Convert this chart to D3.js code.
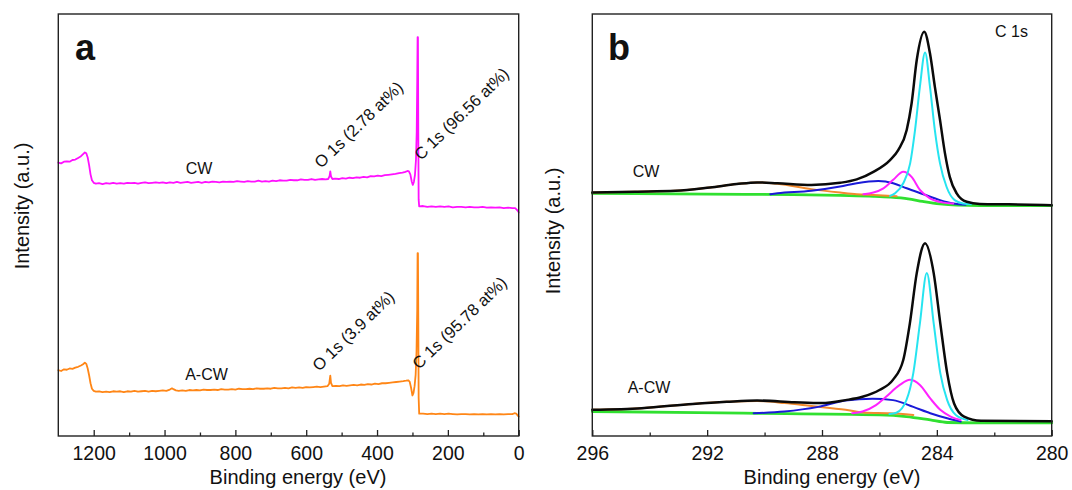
<!DOCTYPE html>
<html>
<head>
<meta charset="utf-8">
<script src="https://cdn.jsdelivr.net/npm/d3@7"></script>
<style>
  html, body { margin: 0; padding: 0; background: #fff; }
  svg { display: block; font-family: "Liberation Sans", Arial, Helvetica, sans-serif; }
</style>
</head>
<body>
<svg id="chart" width="1072" height="490"></svg>
<script>
// ---------- Panel a: XPS survey spectra, [binding energy (eV), intensity (a.u.)] ----------
const surveyCW = [
  [1300, 64.8], [1292, 64.6], [1284, 65.0], [1276, 65.1], [1268, 65.0], [1260, 65.4], [1252, 65.5],
  [1244, 65.9], [1236, 66.3], [1230, 66.8], [1225, 67.2], [1221, 67.0], [1217, 66.0], [1213, 64.2],
  [1209, 62.0], [1205, 60.6], [1200, 60.0], [1194, 59.8], [1185, 59.9], [1175, 59.7], [1165, 59.9],
  [1155, 59.8], [1145, 60.0], [1135, 59.8], [1125, 59.9], [1115, 59.8], [1105, 60.0], [1095, 59.9],
  [1085, 60.0], [1075, 59.8], [1065, 60.0], [1055, 60.1], [1045, 59.9], [1035, 60.0], [1025, 60.1],
  [1015, 60.0], [1005, 60.1], [995, 59.9], [985, 60.1], [975, 60.0], [965, 60.2], [955, 60.0],
  [945, 60.1], [935, 60.2], [925, 60.0], [915, 60.1], [905, 60.2], [895, 60.0], [885, 60.2],
  [875, 60.1], [865, 60.3], [855, 60.2], [845, 60.1], [835, 60.3], [825, 60.2], [815, 60.3],
  [805, 60.2], [795, 60.4], [785, 60.3], [775, 60.2], [765, 60.4], [755, 60.3], [745, 60.3],
  [735, 60.5], [725, 60.3], [715, 60.4], [705, 60.3], [695, 60.5], [685, 60.4], [675, 60.6],
  [665, 60.5], [655, 60.5], [645, 60.7], [635, 60.6], [625, 60.6], [615, 60.8], [605, 60.7],
  [595, 60.7], [585, 60.9], [575, 60.7], [565, 60.8], [555, 60.9], [545, 60.8], [538, 60.9],
  [534, 61.6], [532, 62.7], [530, 61.5], [526, 60.9], [518, 61.0], [508, 60.9], [498, 61.1],
  [488, 61.0], [478, 61.2], [468, 61.1], [458, 61.3], [448, 61.2], [438, 61.4], [428, 61.3],
  [418, 61.6], [408, 61.5], [398, 61.7], [388, 61.6], [378, 61.8], [368, 61.9], [358, 62.0],
  [348, 62.1], [338, 62.3], [328, 62.4], [320, 62.6], [314, 62.8], [310, 62.7], [306, 62.0],
  [302, 60.3], [299, 59.5], [296, 60.2], [293, 61.8], [290, 65.5], [288, 72.0], [286.5, 84.0],
  [285.5, 94.5], [284.5, 94.5], [283.5, 72.0], [282.5, 56.0], [281, 54.4], [270, 54.5],
  [258, 54.3], [246, 54.4], [234, 54.3], [222, 54.4], [210, 54.3], [198, 54.4], [186, 54.2],
  [174, 54.3], [162, 54.3], [150, 54.2], [138, 54.3], [126, 54.2], [114, 54.2], [102, 54.3],
  [90, 54.1], [78, 54.2], [66, 54.1], [54, 54.2], [42, 54.0], [30, 54.1], [18, 54.0],
  [10, 54.0], [5, 53.6], [2, 53.3], [0, 53.0]
];

const surveyACW = [
  [1300, 15.6], [1292, 15.4], [1284, 15.8], [1276, 15.7], [1268, 16.0], [1260, 15.9], [1252, 16.2],
  [1244, 16.4], [1236, 16.7], [1230, 17.0], [1225, 17.4], [1221, 17.1], [1217, 16.0], [1213, 14.4],
  [1209, 12.5], [1205, 11.2], [1200, 10.7], [1194, 10.5], [1185, 10.6], [1175, 10.4], [1165, 10.5],
  [1155, 10.4], [1145, 10.6], [1135, 10.5], [1125, 10.6], [1115, 10.4], [1105, 10.6], [1095, 10.5],
  [1085, 10.7], [1075, 10.5], [1065, 10.6], [1055, 10.7], [1045, 10.5], [1035, 10.7], [1025, 10.6],
  [1015, 10.7], [1005, 10.8], [995, 10.7], [985, 11.0], [979, 11.3], [975, 11.1], [968, 10.8],
  [960, 10.7], [950, 10.8], [940, 10.7], [930, 10.9], [920, 10.8], [910, 10.9], [900, 10.8],
  [890, 11.0], [880, 10.9], [870, 10.9], [860, 11.0], [850, 10.9], [840, 11.1], [830, 11.0],
  [820, 11.0], [810, 11.1], [800, 11.0], [790, 11.2], [780, 11.1], [770, 11.1], [760, 11.2],
  [750, 11.1], [740, 11.3], [730, 11.2], [720, 11.2], [710, 11.3], [700, 11.2], [690, 11.4],
  [680, 11.3], [670, 11.3], [660, 11.4], [650, 11.3], [640, 11.5], [630, 11.4], [620, 11.5],
  [610, 11.4], [600, 11.6], [590, 11.5], [580, 11.6], [570, 11.7], [560, 11.6], [550, 11.7],
  [540, 11.8], [535, 12.4], [532, 14.3], [530, 12.6], [526, 11.8], [516, 11.9], [506, 11.8],
  [496, 12.0], [486, 11.9], [476, 12.0], [466, 12.1], [456, 12.0], [446, 12.2], [436, 12.1],
  [426, 12.3], [416, 12.2], [406, 12.4], [396, 12.3], [386, 12.5], [376, 12.5], [366, 12.6],
  [356, 12.7], [346, 12.8], [336, 12.9], [326, 13.0], [318, 13.1], [312, 13.2], [308, 12.9],
  [304, 11.5], [300, 9.6], [297, 10.2], [294, 11.8], [291, 14.5], [288.5, 20.0], [286.5, 30.0],
  [285.5, 43.3], [284.5, 43.3], [283.5, 28.0], [282.5, 9.0], [281, 5.3], [270, 5.3], [258, 5.2],
  [246, 5.3], [234, 5.2], [222, 5.3], [210, 5.2], [198, 5.3], [186, 5.2], [174, 5.1], [162, 5.2],
  [150, 5.2], [138, 5.1], [126, 5.2], [114, 5.1], [102, 5.2], [90, 5.1], [78, 5.2], [66, 5.1],
  [54, 5.2], [42, 5.1], [30, 5.2], [18, 5.2], [12, 5.4], [7, 5.3], [3, 4.9], [0, 4.6]
];

// ---------- Panel b: C 1s high-resolution spectra with fitted components ----------
const cwEnvelope = [
  [296.0, 57.7], [294.5, 57.9], [293.1, 58.1], [291.9, 58.9], [290.97, 59.7], [290.26, 60.1],
  [289.55, 59.9], [288.37, 59.5], [287.37, 60.0], [286.79, 60.8], [286.21, 62.6], [285.63, 65.4],
  [285.34, 67.8], [285.05, 72.5], [284.88, 78.8], [284.70, 89.1], [284.44, 95.8], [284.24, 90.7],
  [284.07, 82.8], [283.89, 74.9], [283.72, 67.1], [283.55, 61.4], [283.31, 57.5], [282.96, 55.5],
  [282.50, 55.0], [281.5, 54.9], [280.0, 54.7]
];
const cwBackground = [
  [296.0, 57.5], [292.0, 57.3], [289.0, 57.2], [287.37, 57.0], [286.2, 56.8], [285.63, 56.6],
  [285.0, 56.2], [284.5, 55.6], [283.9, 55.0], [283.3, 54.7], [282.5, 54.6], [280.0, 54.6]
];
const cwPeakC = [
  [285.63, 56.9], [285.46, 57.5], [285.17, 59.9], [284.93, 64.6], [284.76, 72.5], [284.59, 82.8],
  [284.41, 90.9], [284.24, 82.8], [284.07, 72.5], [283.89, 64.6], [283.66, 59.0], [283.38, 55.9],
  [283.08, 55.1], [282.8, 54.9]
];
const cwPeakCH = [
  [286.56, 57.3], [286.21, 57.7], [285.86, 58.7], [285.52, 60.7], [285.17, 62.6], [284.88, 61.4],
  [284.59, 58.3], [284.24, 56.3], [283.78, 55.3], [283.43, 55.1]
];
const cwPeakCO = [
  [289.8, 57.3], [289.55, 57.5], [288.37, 58.1], [287.37, 59.1], [286.79, 59.9], [286.04, 60.4],
  [285.52, 59.9], [285.05, 58.7], [284.47, 57.3], [283.89, 55.9], [283.43, 55.1], [283.0, 54.8]
];
const cwPeakSat = [
  [296.0, 57.7], [294.5, 57.9], [293.1, 58.1], [291.9, 58.9], [290.97, 59.7], [290.26, 60.1],
  [289.55, 59.8], [288.37, 58.5], [287.37, 57.7], [286.79, 57.3], [286.2, 57.1], [285.4, 56.8]
];

const acwEnvelope = [
  [296.0, 6.2], [294.28, 6.6], [292.50, 7.6], [291.32, 8.1], [290.26, 8.4], [288.96, 8.0],
  [288.01, 7.8], [287.18, 8.5], [286.59, 9.3], [286.0, 10.9], [285.53, 13.3], [285.17, 18.0],
  [284.94, 26.7], [284.70, 38.6], [284.41, 45.7], [284.11, 38.6], [283.88, 26.7], [283.64, 14.9],
  [283.40, 7.7], [283.05, 4.6], [282.46, 3.6], [280.0, 3.5]
];
const acwBackground = [
  [296.0, 5.8], [290.73, 5.4], [286.0, 5.0], [285.06, 4.6], [284.23, 3.8], [283.64, 3.2],
  [282.5, 3.1], [280.0, 3.1]
];
const acwPeakC = [
  [285.65, 5.2], [285.41, 5.5], [285.06, 8.5], [284.82, 14.9], [284.59, 26.7], [284.35, 38.6],
  [284.11, 26.7], [283.88, 14.9], [283.64, 8.5], [283.34, 5.0], [282.93, 3.8]
];
const acwPeakCH = [
  [286.95, 5.4], [286.59, 5.8], [286.12, 7.3], [285.77, 9.3], [285.29, 12.1], [284.94, 13.3],
  [284.59, 12.1], [284.23, 8.9], [283.88, 6.2], [283.52, 4.6], [283.17, 3.8]
];
const acwPeakCO = [
  [290.38, 5.4], [289.31, 5.8], [288.13, 6.9], [287.18, 8.4], [286.24, 8.8], [285.53, 8.5],
  [284.82, 6.9], [284.23, 5.4], [283.64, 4.2], [283.17, 3.4]
];
const acwPeakSat = [
  [296.0, 6.2], [294.28, 6.6], [292.50, 7.6], [291.32, 8.1], [290.26, 8.3], [289.3, 7.8],
  [288.37, 7.1], [287.18, 6.2], [286.47, 5.5], [285.65, 5.4], [284.82, 5.0]
];

// Tick values
const ticksA = [1200, 1000, 800, 600, 400, 200, 0];
const minorTicksA = [1100, 900, 700, 500, 300, 100];
const ticksB = [296, 292, 288, 284, 280];
const minorTicksB = [294, 290, 286, 282];

// ---------- Layout ----------
const svg = d3.select("#chart");
const plotTop = 14, plotBottom = 436;
const y = d3.scaleLinear().domain([0, 100]).range([plotBottom, plotTop]);
const xA = d3.scaleLinear().domain([1300, 0]).range([58.3, 518.7]);
const xB = d3.scaleLinear().domain([296, 280]).range([592.3, 1051.7]);

svg.append("rect").attr("width", 1072).attr("height", 490).attr("fill", "#fff");

function drawAxis(x, major, minor) {
  const g = svg.append("g").attr("transform", `translate(0,${plotBottom})`);
  g.call(d3.axisBottom(x).tickValues(major).tickFormat(d3.format("d"))
      .tickSize(-6).tickPadding(10))
    .attr("font-family", null).attr("font-size", null);
  g.select(".domain").remove();
  g.selectAll(".tick line").attr("stroke", "#222").attr("stroke-width", 1.3);
  g.selectAll(".tick text").attr("fill", "#111").style("font-size", "19.5px");
  const gm = svg.append("g").attr("transform", `translate(0,${plotBottom})`);
  gm.call(d3.axisBottom(x).tickValues(minor).tickFormat("").tickSize(-3.5));
  gm.select(".domain").remove();
  gm.selectAll(".tick line").attr("stroke", "#222").attr("stroke-width", 1.3);
}

function drawFrame(x) {
  const [x0, x1] = x.range();
  svg.append("rect").attr("x", x0).attr("y", plotTop)
    .attr("width", x1 - x0).attr("height", plotBottom - plotTop)
    .attr("fill", "none").attr("stroke", "#222").attr("stroke-width", 1.4);
}

function drawLine(x, data, color, width, curve) {
  const line = d3.line().x(d => x(d[0])).y(d => y(d[1])).curve(curve || d3.curveLinear);
  svg.append("path").datum(data).attr("d", line)
    .attr("fill", "none").attr("stroke", color).attr("stroke-width", width)
    .attr("stroke-linejoin", "round").attr("stroke-linecap", "round");
}

function label(str, x, yy, size, opts = {}) {
  const t = svg.append("text").attr("x", x).attr("y", yy).text(str)
    .style("font-size", size + "px").attr("fill", "#111");
  if (opts.anchor) t.attr("text-anchor", opts.anchor);
  if (opts.bold) t.attr("font-weight", "bold");
  if (opts.rotate !== undefined) {
    t.attr("x", 0).attr("y", 0).attr("transform", `translate(${x},${yy}) rotate(${opts.rotate})`);
  }
  return t;
}

// ---------- Panel a ----------
drawLine(xA, surveyCW, "#ff10ff", 1.8);
drawLine(xA, surveyACW, "#ff8616", 1.8);
drawAxis(xA, ticksA, minorTicksA);
drawFrame(xA);

label("a", 75, 60, 36, { bold: true });
label("CW", 199, 173.5, 16, { anchor: "middle" });
label("A-CW", 206.5, 380, 16, { anchor: "middle" });
label("O 1s (2.78 at%)", 321, 169, 16.5, { rotate: -44 });
label("C 1s (96.56 at%)", 421, 161, 16.5, { rotate: -44 });
label("O 1s (3.9 at%)", 319, 372, 16.5, { rotate: -44 });
label("C 1s (95.78 at%)", 419, 370, 16.5, { rotate: -44 });
label("Intensity (a.u.)", 28.5, 206, 20, { anchor: "middle", rotate: -90 });
label("Binding energy (eV)", 298, 484, 20, { anchor: "middle" });

// ---------- Panel b ----------
const smooth = d3.curveMonotoneX;
[[cwBackground, cwPeakSat, cwPeakCO, cwPeakCH, cwPeakC, cwEnvelope],
 [acwBackground, acwPeakSat, acwPeakCO, acwPeakCH, acwPeakC, acwEnvelope]].forEach(set => {
  drawLine(xB, set[0], "#30e030", 2.8, smooth);
  drawLine(xB, set[1], "#f28a2e", 2.0, smooth);
  drawLine(xB, set[2], "#1a1ad8", 2.0, smooth);
  drawLine(xB, set[3], "#ff22ff", 2.0, smooth);
  drawLine(xB, set[4], "#26e4f0", 2.0, smooth);
  drawLine(xB, set[5], "#0a0a0a", 2.5, smooth);
});
drawAxis(xB, ticksB, minorTicksB);
drawFrame(xB);

label("b", 608, 60, 36, { bold: true });
label("C 1s", 995, 36.7, 16);
label("CW", 646, 176.7, 16, { anchor: "middle" });
label("A-CW", 649, 393.3, 16, { anchor: "middle" });
label("Intensity (a.u.)", 559.5, 231, 20, { anchor: "middle", rotate: -90 });
label("Binding energy (eV)", 832, 484, 20, { anchor: "middle" });
</script>
</body>
</html>
